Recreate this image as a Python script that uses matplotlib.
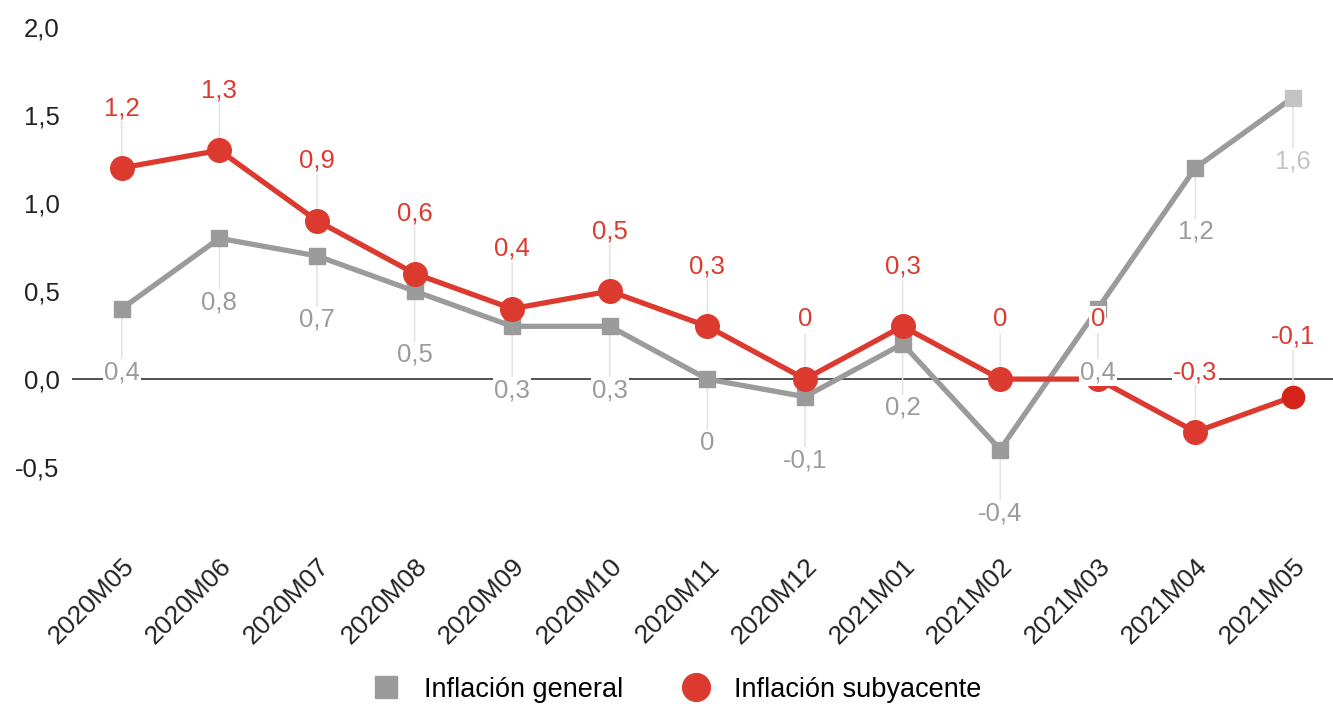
import matplotlib.pyplot as plt
from matplotlib.lines import Line2D

plt.rcParams['font.family'] = ['Liberation Sans', 'DejaVu Sans']

# Datos
meses = ['2020M05', '2020M06', '2020M07', '2020M08', '2020M09', '2020M10', '2020M11',
         '2020M12', '2021M01', '2021M02', '2021M03', '2021M04', '2021M05']
general = [0.4, 0.8, 0.7, 0.5, 0.3, 0.3, 0.0, -0.1, 0.2, -0.4, 0.4, 1.2, 1.6]
subyacente = [1.2, 1.3, 0.9, 0.6, 0.4, 0.5, 0.3, 0.0, 0.3, 0.0, 0.0, -0.3, -0.1]

gris = '#9b9b9b'
gris_claro = '#c4c4c4'
rojo = '#dc3a2f'
rojo_oscuro = '#d42419'
guia = '#e3e3e3'


def fmt(v):
    if v == 0:
        return '0'
    return ('%.1f' % v).replace('.', ',')


fig = plt.figure(figsize=(13.33, 7.04), dpi=100)
ax = fig.add_axes([0.054, 0.274, 0.946, 0.6875])

x = list(range(len(meses)))

# linea de cero
ax.axhline(0, color='#333333', lw=1.2, zorder=1)

# Inflación general
ax.plot(x, general, color=gris, lw=3.8, zorder=2)
ax.plot(x[:-1], general[:-1], ls='none', marker='s', ms=11.5, color=gris, zorder=3)
ax.plot(x[-1:], general[-1:], ls='none', marker='s', ms=11.5, color=gris_claro, zorder=3)

# Inflación subyacente
ax.plot(x, subyacente, color=rojo, lw=3.8, zorder=4)
ax.plot(x[:-1], subyacente[:-1], ls='none', marker='o', ms=17, color=rojo, zorder=5)
ax.plot(x[-1:], subyacente[-1:], ls='none', marker='o', ms=16, color=rojo_oscuro, zorder=5)

# etiquetas con líneas guía (las guías quedan debajo de las series)
off_g, off_s = -46, 43
for i in x:
    c = gris_claro if i == len(x) - 1 else gris
    for val, off, col in [(general[i], off_g, c), (subyacente[i], off_s, rojo)]:
        ax.annotate('', (i, val), xytext=(0, off), textcoords='offset points', zorder=1.5,
                    arrowprops=dict(arrowstyle='-', color=guia, lw=1.1, shrinkA=0, shrinkB=0))
        ax.annotate(fmt(val), (i, val), xytext=(0, off), textcoords='offset points',
                    ha='center', va='center', fontsize=18.5, color=col, zorder=10,
                    bbox=dict(boxstyle='square,pad=0.05', fc='white', ec='none'))

ax.set_xlim(-0.51, 12.41)
ax.set_ylim(-0.75, 2.0)
yt = [-0.5, 0, 0.5, 1.0, 1.5, 2.0]
ax.set_yticks(yt)
ax.set_yticklabels([('%.1f' % t).replace('.', ',') for t in yt], fontsize=18.5, color='#222222')
ax.set_xticks(x)
ax.set_xticklabels(meses, rotation=45, ha='right', rotation_mode='anchor',
                   fontsize=19, color='#222222')
ax.tick_params(length=0)
ax.tick_params(axis='x', pad=31)
ax.tick_params(axis='y', pad=9)
for s in ax.spines.values():
    s.set_visible(False)

handles = [Line2D([], [], ls='none', marker='s', ms=16.5, color=gris),
           Line2D([], [], ls='none', marker='o', ms=20, color=rojo)]
fig.legend(handles, ['Inflación general', 'Inflación subyacente'], loc='center',
           bbox_to_anchor=(0.506, 0.02), ncol=2, frameon=False, fontsize=19.5,
           handletextpad=0.7, columnspacing=2.0, handlelength=1.4)

fig.savefig('out.png', dpi=100)
